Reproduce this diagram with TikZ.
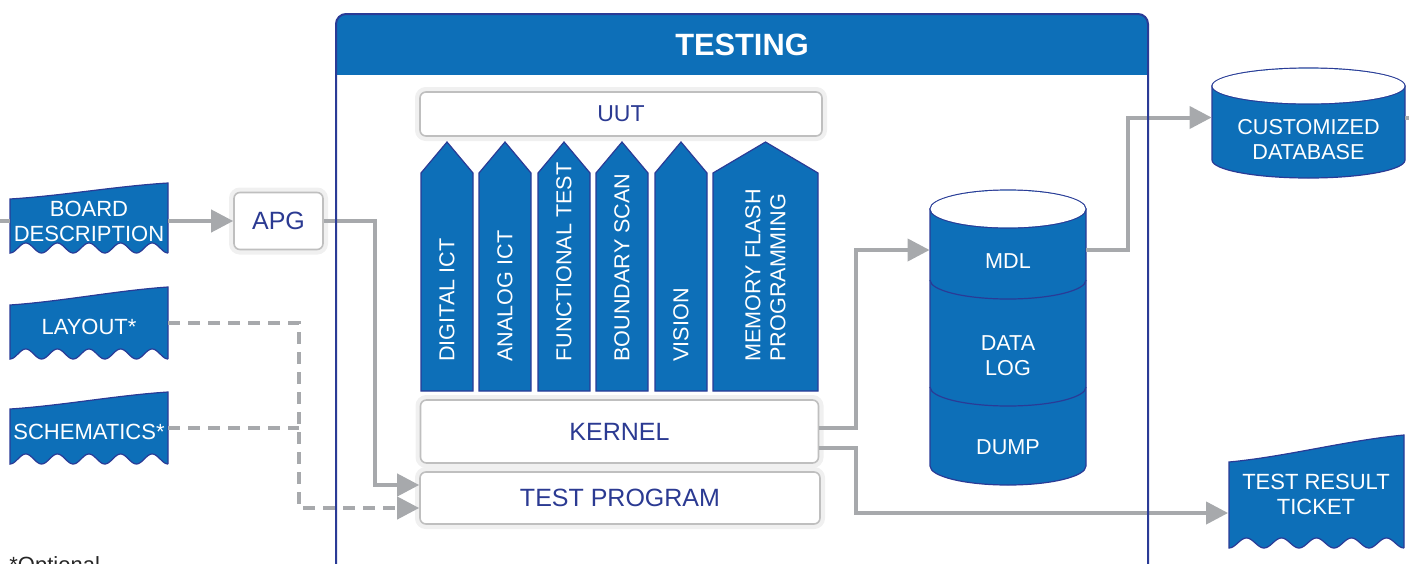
\documentclass[tikz,border=0pt]{standalone}
\usepackage{fontspec}
\setmainfont{Liberation Sans}
\usetikzlibrary{arrows.meta}
\definecolor{mainblue}{HTML}{0D6FB8}
\definecolor{edgenavy}{HTML}{2A3B96}
\definecolor{txtnavy}{HTML}{2B3A92}
\definecolor{linegray}{HTML}{A7A9AC}
\newcommand{\wavedoc}[5]{%
  \draw[docshape] (#1,#5) -- (#1,#3)
    .. controls ({#1+0.33*(#2-#1)},{#3-0.2*(#3-#4)}) and ({#1+0.67*(#2-#1)},{#4+0.2*(#3-#4)}) .. (#2,#4)
    -- (#2,#5)
    -- plot[domain=#2:#1, samples=120] (\x,{#5-5+5*cos((\x-#1)*(1800/(#2-#1)))})
    -- cycle;}
\begin{document}
\begin{tikzpicture}[x=0.5pt, y=-0.5pt,
    docshape/.style={fill=mainblue, draw=edgenavy, line width=0.6pt},
    doctext/.style={text=white, align=center, inner sep=0pt, font=\fontsize{11}{12.5}\selectfont},
    whitebox/.style={fill=white, draw=black!25, line width=0.8pt, rounded corners=3pt, text=txtnavy,
      preaction={draw=black!6, line width=5pt}},
    bar/.style={fill=mainblue, draw=edgenavy, line width=0.6pt},
    bartext/.style={rotate=90, anchor=west, text=white, align=left, inner sep=0pt,
      font=\fontsize{10.8}{12.5}\selectfont},
    cyltext/.style={text=white, align=center, inner sep=0pt, font=\fontsize{10.8}{12.5}\selectfont},
    cyl/.style={fill=mainblue, draw=edgenavy, line width=0.6pt},
    line/.style={draw=linegray, line width=2pt},
    conn/.style={line, -{Triangle[length=11pt, width=11pt]}},
    dline/.style={line, dash pattern=on 6pt off 4pt},
    dconn/.style={conn, dash pattern=on 6pt off 4pt}]
  \useasboundingbox (0,0) rectangle (1409,563);
  \fill[mainblue, rounded corners=5pt] (336,14) rectangle (1148,60);
  \fill[mainblue] (336,40) rectangle (1148,75);
  \node[text=white, font=\bfseries\fontsize{15.4}{17}\selectfont] (testing) at (742,45) {TESTING};
  \node[whitebox, minimum width=201pt, minimum height=22pt, font=\fontsize{11.5}{13}\selectfont] (uut) at (621,114) {UUT};
  \foreach \xl/\w/\lbl [count=\i] in {421/52/DIGITAL ICT, 479/52/ANALOG ICT, 538/52/FUNCTIONAL TEST,
      596/52/BOUNDARY SCAN, 655/52/VISION, 713/105/{MEMORY FLASH\\PROGRAMMING}}{
    \draw[bar] (\xl,391) -- (\xl,173) -- ({\xl+\w/2},142) -- ({\xl+\w},173) -- ({\xl+\w},391) -- cycle;
    \node[bartext] (bar\i) at ({\xl+\w/2},362) {\lbl};
  }
  \node[whitebox, minimum width=199pt, minimum height=31.5pt, font=\fontsize{12.5}{14}\selectfont] (kernel) at (619.5,431.5) {KERNEL};
  \node[whitebox, minimum width=200pt, minimum height=26pt, font=\fontsize{12.5}{14}\selectfont] (prog) at (620,498) {TEST PROGRAM};
  \node[whitebox, minimum width=44.5pt, minimum height=28.5pt, font=\fontsize{12.5}{14}\selectfont] (apg) at (278.5,221) {APG};
  \path[cyl] (930,209) -- (930,466) arc[start angle=180, end angle=360, x radius=39pt, y radius=9.5pt] -- (1086,209) -- cycle;
  \draw[cyl] (1008,209) ellipse[x radius=39pt, y radius=9.5pt];
  \fill[white] (1008,209) ellipse[x radius=38.7pt, y radius=9.2pt];
  \draw[edgenavy, line width=0.6pt] (930,280) arc[start angle=180, end angle=360, x radius=39pt, y radius=9.5pt];
  \draw[edgenavy, line width=0.6pt] (930,387) arc[start angle=180, end angle=360, x radius=39pt, y radius=9.5pt];
  \node[cyltext, minimum width=78pt] (mdl) at (1008,261) {MDL};
  \node[cyltext] (datalog) at (1008,356) {DATA\\LOG};
  \node[cyltext] (dump) at (1008,447) {DUMP};
  \path[cyl] (1212,86) -- (1212,160) arc[start angle=180, end angle=360, x radius=48.25pt, y radius=9pt] -- (1405,86) -- cycle;
  \draw[cyl] (1308.5,86) ellipse[x radius=48.25pt, y radius=9pt];
  \fill[white] (1308.5,86) ellipse[x radius=47.95pt, y radius=8.7pt];
  \node[cyltext, minimum width=96.5pt] (db) at (1308.5,139.5) {CUSTOMIZED\\DATABASE};
  \wavedoc{10}{168}{199}{183}{253}
  \node[doctext, minimum width=79pt] (board) at (89,221) {BOARD\\DESCRIPTION};
  \wavedoc{10}{168}{305}{287}{359}
  \node[doctext, minimum width=79pt] (layout) at (89,327) {LAYOUT*};
  \wavedoc{10}{168}{409}{392}{464}
  \node[doctext, minimum width=79pt] (schem) at (89,432) {SCHEMATICS*};
  \wavedoc{1229}{1404}{462}{435}{548}
  \node[doctext, minimum width=87.5pt] (ticket) at (1316,494) {TEST RESULT\\TICKET};
  \node[anchor=north west, inner sep=0pt, text=black!85, font=\fontsize{11}{13}\selectfont] (note) at (9,556) {*Optional};
  \coordinate (inL) at (0,221);
  \coordinate (outR) at (1409,117.5);
  \draw[line] (inL) -- (board.west);
  \draw[conn] (board.east) -- (apg.west);
  \draw[conn] (apg.east) -- ++(51,0) |- ([yshift=6.5pt]prog.west);
  \draw[dconn] ([yshift=2pt]layout.east) -- ++(131,0) |- ([yshift=-5pt]prog.west);
  \draw[dline] ([yshift=2pt]schem.east) -- ++(131,0);
  \draw[conn] ([yshift=2pt]kernel.east) -- ++(37,0) |- ([yshift=5.5pt]mdl.west);
  \draw[conn] ([yshift=-8pt]kernel.east) -- ++(37,0) |- ([yshift=-9.5pt]ticket.west);
  \draw[conn] ([yshift=5.5pt]mdl.east) -- ++(42,0) |- ([yshift=11pt]db.west);
  \draw[line] ([yshift=11pt]db.east) -- (outR);
  \draw[edgenavy, line width=1pt, rounded corners=5pt] (336,620) -- (336,14) -- (1148,14) -- (1148,620);
\end{tikzpicture}
\end{document}
